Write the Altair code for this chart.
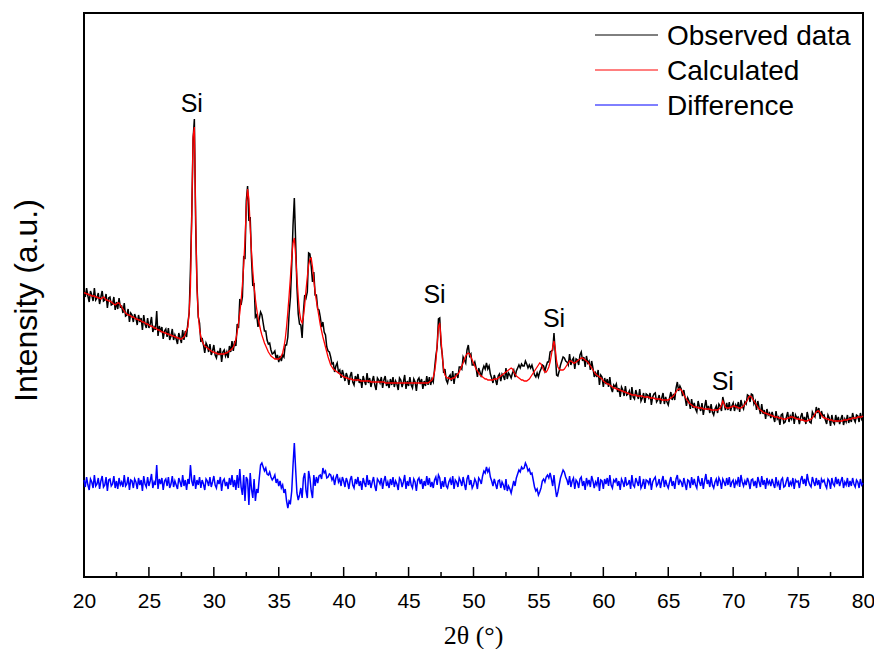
import numpy as np
import pandas as pd
import altair as alt

# ---------------- data ----------------
# 2-theta grid: 20.0 .. 80.0 in steps of 0.1 degree
TWO_THETA_START = 20.0
TWO_THETA_STEP = 0.1

# Calculated (fitted) profile, arbitrary intensity units
CALC = [
    284, 284, 283, 283, 282, 282, 281, 281, 281, 280,
    280, 279, 279, 278, 279, 280, 279, 277, 277, 276,
    276, 275, 274, 273, 272, 273, 274, 274, 272, 270,
    268, 266, 264, 263, 262, 262, 261, 260, 260, 259,
    258, 258, 257, 257, 256, 255, 255, 254, 253, 253,
    252, 251, 251, 250, 249, 249, 248, 247, 247, 246,
    245, 245, 244, 244, 243, 243, 242, 242, 241, 241,
    240, 240, 239, 239, 238, 238, 239, 240, 243, 247,
    250, 265, 290, 360, 440, 450, 360, 290, 262, 248,
    240, 236, 233, 231, 230, 229, 228, 227, 226, 225,
    225, 224, 224, 223, 223, 223, 223, 223, 223, 224,
    224, 225, 226, 227, 228, 230, 233, 238, 245, 254,
    264, 276, 292, 312, 337, 370, 388, 378, 350, 325,
    306, 290, 278, 268, 260, 253, 247, 242, 238, 234,
    231, 228, 225, 223, 221, 220, 219, 218, 218, 218,
    218, 219, 221, 224, 230, 238, 250, 265, 282, 300,
    320, 334, 339, 322, 300, 280, 265, 257, 254, 260,
    272, 287, 300, 312, 318, 319, 310, 297, 285, 276,
    268, 260, 252, 246, 240, 235, 230, 225, 220, 216,
    212, 210, 208, 207, 206, 205, 204, 203, 202, 201,
    200, 200, 199, 199, 198, 198, 198, 197, 197, 197,
    197, 197, 197, 196, 196, 196, 196, 196, 196, 196,
    196, 195, 195, 195, 195, 195, 195, 195, 195, 195,
    195, 195, 194, 194, 194, 194, 194, 194, 194, 194,
    194, 194, 194, 194, 194, 194, 194, 194, 194, 194,
    194, 194, 194, 194, 194, 194, 194, 194, 194, 194,
    194, 194, 194, 194, 194, 194, 195, 196, 197, 200,
    205, 215, 232, 250, 254, 238, 220, 208, 202, 200,
    199, 199, 198, 198, 199, 199, 200, 202, 203, 205,
    208, 211, 214, 218, 221, 223, 224, 223, 220, 217,
    214, 211, 208, 206, 204, 202, 201, 200, 199, 198,
    198, 197, 197, 197, 197, 197, 198, 198, 198, 199,
    200, 201, 202, 203, 204, 205, 206, 207, 208, 209,
    208, 205, 203, 201, 200, 199, 198, 197, 197, 196,
    196, 196, 197, 198, 200, 202, 204, 206, 208, 210,
    212, 214, 213, 210, 207, 205, 205, 207, 210, 215,
    222, 230, 236, 228, 216, 210, 208, 207, 207, 207,
    208, 210, 212, 214, 216, 216, 215, 214, 214, 215,
    216, 217, 218, 219, 219, 218, 217, 216, 215, 213,
    211, 209, 207, 205, 203, 202, 201, 200, 199, 198,
    196, 195, 194, 193, 193, 192, 191, 190, 189, 189,
    188, 188, 187, 187, 186, 186, 185, 185, 184, 184,
    183, 183, 182, 182, 182, 182, 181, 181, 181, 181,
    181, 180, 180, 180, 180, 180, 179, 179, 179, 179,
    178, 178, 178, 178, 178, 177, 177, 177, 177, 177,
    177, 178, 179, 180, 181, 183, 185, 187, 188, 188,
    187, 185, 182, 180, 178, 176, 174, 173, 172, 171,
    170, 170, 170, 169, 169, 169, 169, 168, 168, 168,
    168, 168, 168, 167, 167, 167, 167, 167, 167, 168,
    169, 172, 176, 173, 170, 169, 169, 169, 170, 170,
    171, 171, 170, 170, 169, 169, 169, 170, 171, 173,
    175, 177, 180, 181, 180, 178, 176, 174, 172, 170,
    168, 167, 166, 165, 164, 164, 163, 163, 162, 162,
    161, 161, 160, 160, 160, 159, 159, 159, 158, 158,
    158, 158, 159, 159, 160, 160, 160, 159, 159, 158,
    158, 158, 157, 157, 157, 156, 156, 156, 157, 157,
    158, 159, 161, 163, 165, 166, 166, 164, 162, 160,
    159, 159, 158, 158, 157, 157, 157, 156, 156, 156,
    156, 156, 156, 156, 156, 157, 157, 157, 157, 158,
    158, 158, 159, 159, 159, 159, 160, 160, 160, 160,
    161,
]

# Difference (observed - calculated)
DIFF = [
    3, -4, 6, -2, -7, 4, 1, -5, 8, -3,
    -1, 5, -6, 2, 7, -4, -2, 6, -8, 3,
    4, -3, -1, 7, -5, 2, -6, 5, -2, 1,
    -4, 8, -3, -1, 6, -7, 3, 2, -5, 4,
    1, -6, 5, -2, 3, -8, 7, -1, -4, 6,
    -3, 2, 9, -5, 1, -2, 18, -6, 4, -1,
    5, -7, 2, 4, -3, 6, -5, -1, 7, -4,
    2, -2, -6, 5, 1, -4, 8, -3, 3, -7,
    4, -1, 18, 2, -3, 8, -6, 3, -2, 6,
    -5, 3, -1, -7, 4, 2, -3, 6, -4, 1,
    7, -2, -5, 3, -1, 6, -8, 2, 4, -3,
    1, -6, 5, -2, 8, -4, 3, -7, 8, -5,
    14, -4, -12, 8, -18, 6, 3, -22, 10, -6,
    -15, 4, -18, -6, -10, 5, 18, 20, 16, 12,
    15, 9, 8, 11, 6, 3, 5, 8, 0, 4,
    -3, 2, -5, -2, -10, -6, -18, -25, -18, -20,
    -8, 18, 40, 14, -10, -17, -12, -5, -15, 5,
    10, -8, -15, 12, 5, -8, -15, 8, -3, 6,
    0, 7, 8, 4, 15, 10, 12, 5, 6, 9,
    8, 3, 6, -2, 5, 9, 1, 4, -3, 6,
    2, -4, 5, 1, -6, 3, 7, -2, -5, 4,
    -1, 6, -3, 2, -7, 5, 0, -4, 8, -2,
    3, -5, 1, 6, -3, -8, 4, 2, -1, 5,
    -6, 2, 7, -3, 1, -5, 4, -2, 6, -4,
    2, -1, -7, 5, 3, -4, 1, 8, -6, 2,
    -3, 6, -2, -5, 4, 1, -8, 3, 5, -1,
    4, -6, 2, -3, 7, -2, 5, -4, 1, -5,
    3, 6, -2, 8, 5, -6, 2, -4, 6, -3,
    -5, 1, 4, -2, 7, -6, 3, 1, -4, 5,
    2, -3, 6, -1, -7, 4, 8, -2, 3, -5,
    -2, 4, 1, -6, 5, 3, -1, 7, 12, 10,
    16, 11, 14, 6, 2, -3, 4, -1, -6, 2,
    3, -5, 1, -2, -7, 4, -8, -3, -6, -10,
    -4, 2, -3, 5, 9, 13, 11, 16, 14, 15,
    20, 17, 12, 14, 9, 10, 3, -4, -8, -6,
    -12, -9, -5, 2, 4, 1, 6, 8, 5, 10,
    4, -3, 8, -5, -14, -9, -2, 5, 9, 13,
    11, 6, 3, -2, 7, -4, 2, 5, -6, 3,
    1, -5, 4, 6, -3, 2, -7, 5, -1, 3,
    -4, 7, 2, -5, 1, -2, 6, -8, 3, 2,
    -6, 4, -1, 5, -3, 8, -2, -5, 3, 1,
    5, -3, 2, -7, 4, 1, -4, 6, -2, -1,
    3, -6, 8, -2, -4, 5, 1, -3, 7, -5,
    -2, 4, -6, 3, 2, -1, 5, -7, 1, 4,
    6, -3, -1, 4, -5, 2, 7, -4, 3, -2,
    -5, 1, 6, -3, 2, -6, 4, 8, -2, 3,
    1, -4, 5, -1, -7, 3, 2, -5, 6, -2,
    4, -2, -5, 7, 1, -3, 5, -6, 2, 9,
    -1, 3, -4, 6, -2, -5, 1, 4, -3, 5,
    2, -6, 4, 1, -3, 5, -2, 6, -4, 1,
    3, -5, 2, -1, 6, -4, 8, 1, -3, 2,
    -2, 5, 1, -6, 3, 4, -3, 2, -5, 6,
    1, -4, 7, -2, 3, -6, 5, -1, 2, -3,
    4, -1, -5, 6, -2, 1, -7, 3, 5, -4,
    -3, 2, 6, -4, 1, -2, 5, -6, 3, 1,
    2, -5, 3, 7, -1, 4, -3, 9, 2, -2,
    -4, 6, 1, -3, 5, -2, 3, -6, 4, 1,
    3, -2, -5, 4, 2, -6, 5, -1, -3, 6,
    -1, 4, -3, 2, 6, -5, 1, -2, 5, -4,
    2, -3, 5, -1, -4, 3, 1, -5, 4, -2,
    0,
]

DIFF_OFFSET = 94  # vertical offset of the difference curve

SERIES = ["Observed data", "Calculated", "Difference"]
COLORS = ["#000000", "#ff0000", "#0000ff"]

X_TICK_LABELS = [20, 25, 30, 35, 40, 45, 50, 55, 60, 65, 70, 75, 80]
MAJOR_TICKS = [25, 30, 35, 40, 45, 50, 55, 60, 65, 70, 75]
MINOR_TICKS = [22.5, 27.5, 32.5, 37.5, 42.5, 47.5, 52.5, 57.5, 62.5, 67.5, 72.5, 77.5]

SI_POS = [28.3, 47.0, 56.2, 69.2]
SI_INT = [465, 274, 250, 187]
SI_TEXT = ["Si", "Si", "Si", "Si"]

# ---------------- tables ----------------
n = len(CALC)
assert len(DIFF) == n
tt = np.round(TWO_THETA_START + TWO_THETA_STEP * np.arange(n), 1)
calc = np.array(CALC, dtype=float)
diff = np.array(DIFF, dtype=float)
obs = calc + diff  # Rietveld: difference = observed - calculated

df_obs = pd.DataFrame({"two_theta": tt, "intensity": obs})
df_calc = pd.DataFrame({"two_theta": tt, "intensity": calc})
df_diff = pd.DataFrame({"two_theta": tt, "intensity": DIFF_OFFSET + diff})
df_major = pd.DataFrame({"two_theta": MAJOR_TICKS})
df_minor = pd.DataFrame({"two_theta": MINOR_TICKS})
df_si = pd.DataFrame({"two_theta": SI_POS, "intensity": SI_INT, "label": SI_TEXT})

W, H = 779, 564
FONT = "Liberation Sans"

xscale = alt.Scale(domain=[20, 80], nice=False, zero=False)
yscale = alt.Scale(domain=[0, 564], nice=False, zero=False)

x_main = alt.X(
    "two_theta:Q",
    scale=xscale,
    axis=alt.Axis(
        values=X_TICK_LABELS,
        format="d",
        ticks=False,
        tickSize=0,
        domain=False,
        grid=False,
        labelFont=FONT,
        labelFontSize=21,
        labelColor="black",
        labelPadding=13,
        labelFlush=False,
        title="2θ (°)",
        titleFont="Liberation Serif",
        titleFontSize=26,
        titleFontWeight="normal",
        titleColor="black",
        titleX=389,
        titleY=66,
        titleAlign="center",
        titleBaseline="alphabetic",
    ),
)
y_main = alt.Y(
    "intensity:Q",
    scale=yscale,
    axis=alt.Axis(
        labels=False,
        ticks=False,
        domain=False,
        grid=False,
        title="Intensity (a.u.)",
        titleFont=FONT,
        titleFontSize=32,
        titleFontWeight="normal",
        titleColor="black",
        titleX=-48,
        titleY=287,
        titleAlign="center",
        titleBaseline="alphabetic",
    ),
)
x_plain = alt.X("two_theta:Q", scale=xscale)
y_plain = alt.Y("intensity:Q", scale=yscale)

obs_line = alt.Chart(df_obs).mark_line(color=COLORS[0], strokeWidth=1.5).encode(x=x_main, y=y_main)
calc_line = alt.Chart(df_calc).mark_line(color=COLORS[1], strokeWidth=1.3).encode(x=x_plain, y=y_plain)
diff_line = alt.Chart(df_diff).mark_line(color=COLORS[2], strokeWidth=1.5).encode(x=x_plain, y=y_plain)

major = alt.Chart(df_major).mark_rule(color="black", strokeWidth=1.5).encode(
    x=x_plain, y=alt.value(H), y2=alt.value(H - 10)
)
minor = alt.Chart(df_minor).mark_rule(color="black", strokeWidth=1.5).encode(
    x=x_plain, y=alt.value(H), y2=alt.value(H - 5)
)

si = alt.Chart(df_si).mark_text(
    font=FONT, fontSize=25, color="black", align="center", baseline="alphabetic"
).encode(x=x_plain, y=y_plain, text="label:N")

legend_layers = []
LEG_X0, LEG_X1, LEG_TX = 511, 574, 583
LEG_ROWS = [22, 57, 92]
for name, col, ry in zip(SERIES, COLORS, LEG_ROWS):
    legend_layers.append(
        alt.Chart(df_major.head(1)).mark_rule(color=col, strokeWidth=1).encode(
            x=alt.value(LEG_X0), x2=alt.value(LEG_X1), y=alt.value(ry)
        )
    )
    legend_layers.append(
        alt.Chart(df_major.head(1)).mark_text(
            text=name, font=FONT, fontSize=28, color="black", align="left", baseline="alphabetic"
        ).encode(x=alt.value(LEG_TX), y=alt.value(ry + 10))
    )

chart = (
    alt.layer(obs_line, calc_line, diff_line, major, minor, si, *legend_layers)
    .properties(
        width=W,
        height=H,
        autosize=alt.AutoSizeParams(type="none"),
        padding={"left": 76, "top": 5, "right": 11, "bottom": 72},
        background="white",
    )
    .configure_view(stroke="black", strokeWidth=2)
    .configure_axis(grid=False)
)

chart.save("out.html", embed_options={"renderer": "svg", "actions": False})
